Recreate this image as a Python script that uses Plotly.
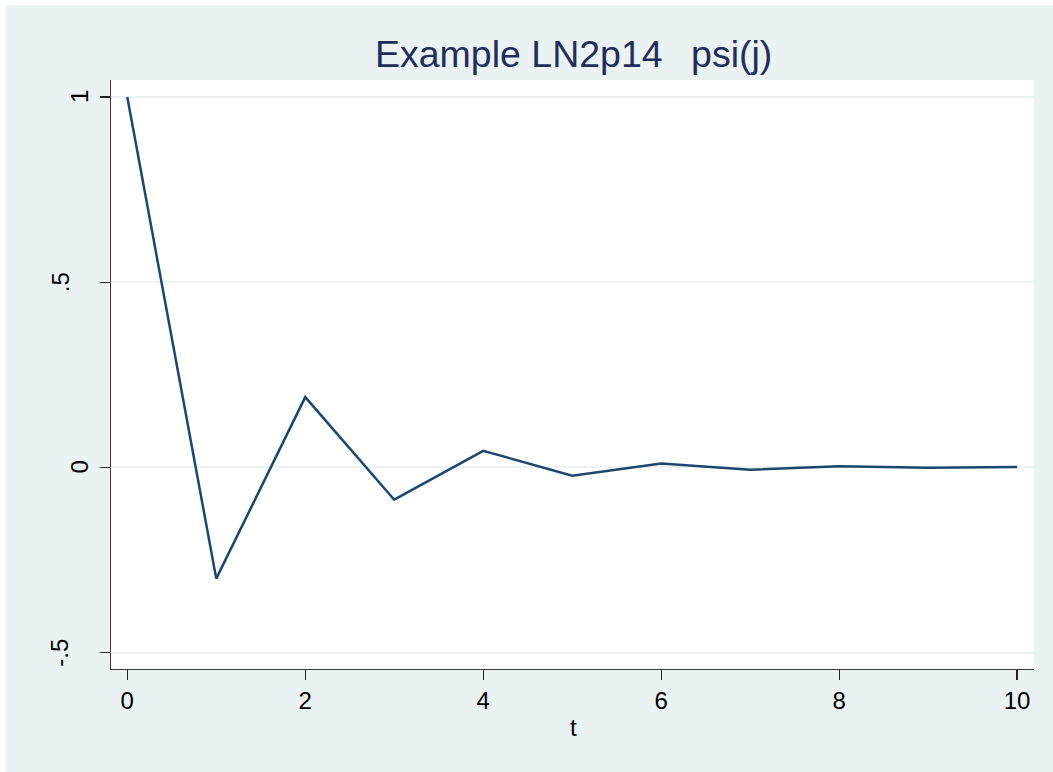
import plotly.graph_objects as go

t = [0, 1, 2, 3, 4, 5, 6, 7, 8, 9, 10]
psi = [1.0, -0.3, 0.19, -0.087, 0.045, -0.022, 0.011, -0.006, 0.003, -0.001, 0.001]

y_tickvals = [-0.5, 0, 0.5, 1]
y_ticktext = ["-.5", "0", ".5", "1"]
y_label_px = [60, 79, 60, 79]  # horizontal centre of each rotated label (px)
x_tickvals = [0, 2, 4, 6, 8, 10]
x_ticktext = ["0", "2", "4", "6", "8", "10"]

title_text = "Example LN2p14\u00a0\u00a0\u2009psi(j)"

W, H = 1053, 772
L, R, T, B = 111, 19, 80, 103
pw, ph = W - L - R, H - T - B

def px_x(p):
    return (p - L) / pw

def px_y(p):
    return (H - B - p) / ph

BG = "#EAF2F3"
FONT = "Liberation Sans, Arial, sans-serif"

fig = go.Figure()
fig.add_trace(go.Scatter(x=t, y=psi, mode="lines",
                         line=dict(color="#1A476F", width=2.5),
                         showlegend=False, hoverinfo="skip"))

fig.update_layout(
    width=W, height=H,
    margin=dict(l=L, r=R, t=T, b=B, autoexpand=False),
    paper_bgcolor=BG, plot_bgcolor="white",
    font=dict(family=FONT, size=24, color="black"),
    showlegend=False,
)
fig.update_xaxes(
    range=[-0.183, 10.19], tickvals=x_tickvals, ticktext=x_ticktext,
    showgrid=False, zeroline=False,
    showline=True, linecolor="#3a3a3a", linewidth=1.3,
    ticks="outside", ticklen=10, tickwidth=1.2, tickcolor="#222",
    tickfont=dict(size=24, family=FONT, color="black"),
)
fig.update_yaxes(
    range=[-0.544, 1.046], tickvals=y_tickvals, showticklabels=False,
    showgrid=True, gridcolor=BG, gridwidth=2, zeroline=False,
    showline=True, linecolor="#3a3a3a", linewidth=1.3,
    ticks="outside", ticklen=10, tickwidth=1.2, tickcolor="#222",
)

for v, txt, xp in zip(y_tickvals, y_ticktext, y_label_px):
    fig.add_annotation(text=txt, xref="paper", yref="y", x=px_x(xp), y=v,
                       xanchor="center", yanchor="middle", textangle=-90,
                       showarrow=False,
                       font=dict(size=24, family=FONT, color="black"))

fig.add_annotation(text=title_text, xref="paper", yref="paper",
                   x=px_x(573.5), y=px_y(54), xanchor="center", yanchor="middle",
                   showarrow=False,
                   font=dict(size=37.5, family=FONT, color="#1F2E5C"))
fig.add_annotation(text="t", xref="paper", yref="paper",
                   x=px_x(573), y=px_y(727.5), xanchor="center", yanchor="middle",
                   showarrow=False,
                   font=dict(size=24, family=FONT, color="black"))

# thin white outer border on left and top edges
fig.add_shape(type="rect", xref="paper", yref="paper", layer="above",
              x0=px_x(0), x1=px_x(6), y0=px_y(H), y1=px_y(0),
              fillcolor="white", line=dict(width=0))
fig.add_shape(type="rect", xref="paper", yref="paper", layer="above",
              x0=px_x(0), x1=px_x(W), y0=px_y(5), y1=px_y(0),
              fillcolor="white", line=dict(width=0))

fig.write_html("out.html",
               config={"displayModeBar": False, "staticPlot": True},
               post_script="document.body.style.margin='0px';document.body.style.overflow='hidden';")
